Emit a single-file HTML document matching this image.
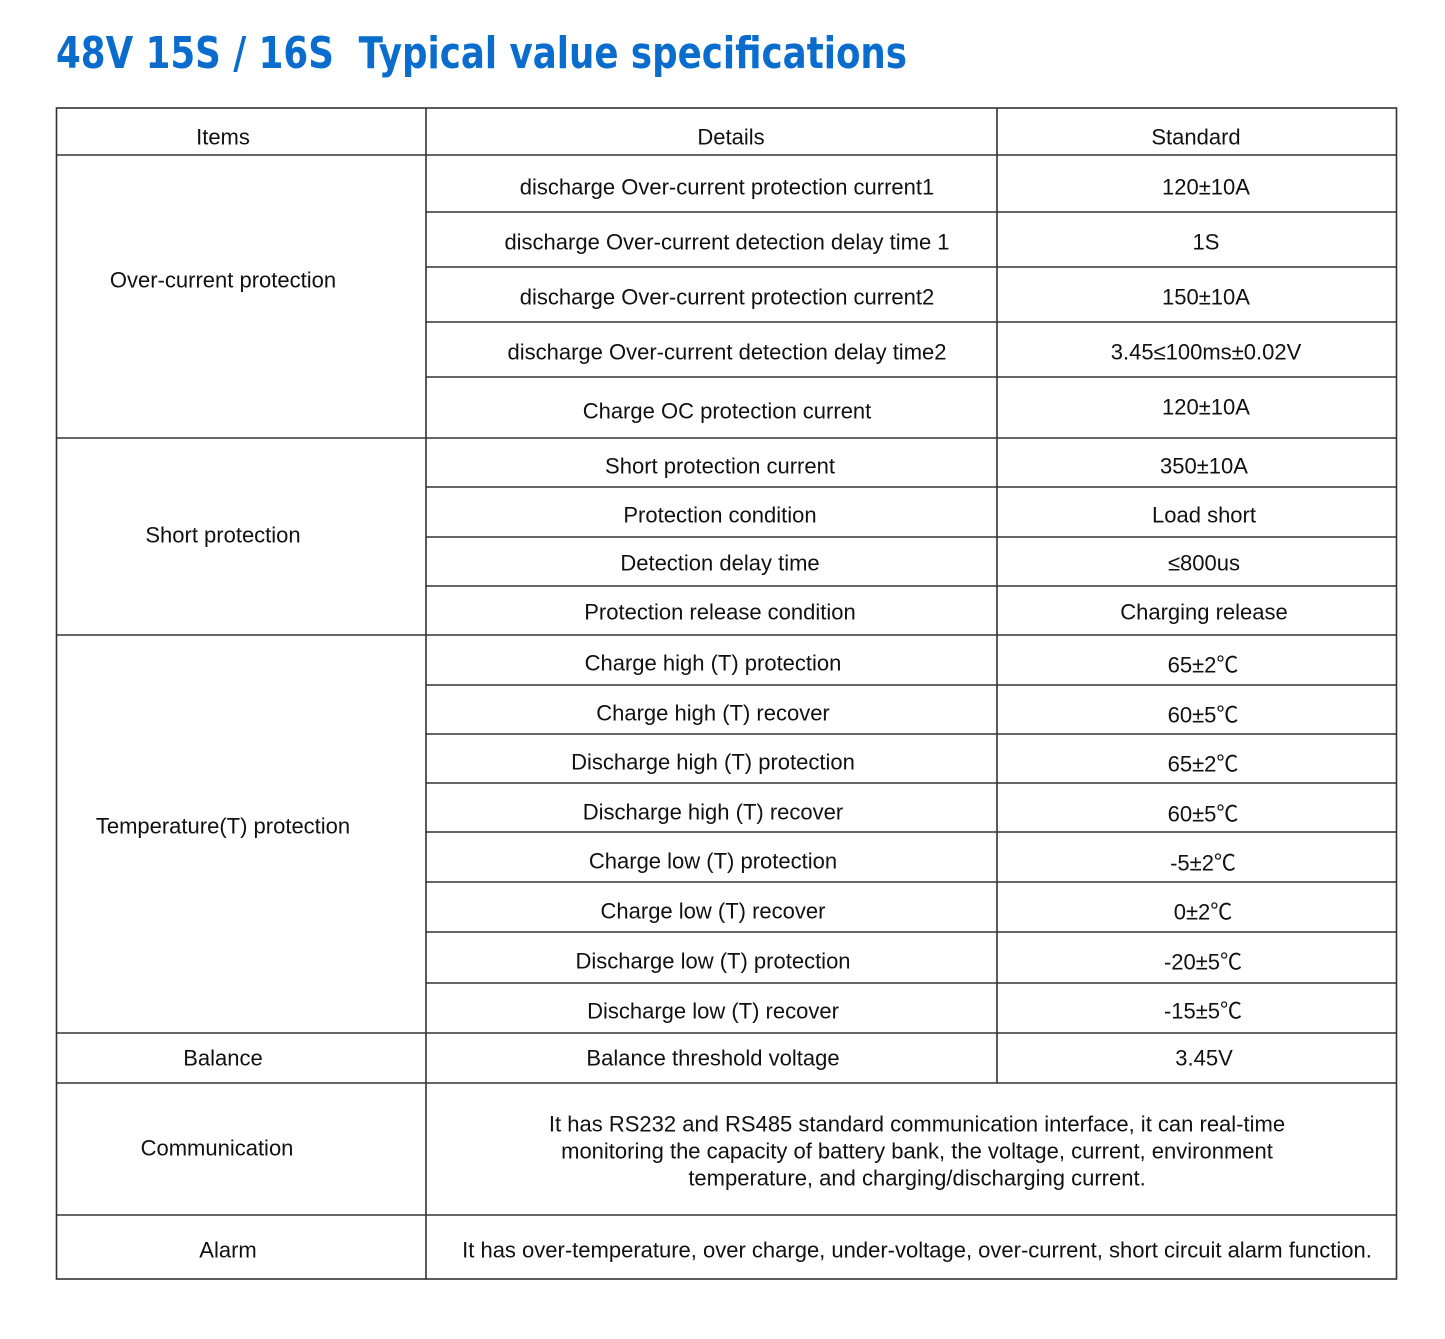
<!DOCTYPE html>
<html><head><meta charset="utf-8"><style>
html,body{margin:0;padding:0;background:#fff;width:1445px;height:1339px;overflow:hidden}
svg text{font-family:"Liberation Sans","Noto Sans CJK SC",sans-serif;font-size:22px;fill:#111}
</style></head><body>
<svg width="1445" height="1339" xmlns="http://www.w3.org/2000/svg">
<text x="56" y="68" textLength="851" lengthAdjust="spacingAndGlyphs" style="font-family:'DejaVu Sans','Liberation Sans',sans-serif;font-weight:bold;font-size:44px;fill:#0a6ccc">48V 15S / 16S&#160; Typical value specifications</text>
<g stroke="#333" stroke-width="1.6" fill="none">
<rect x="56.5" y="108" width="1340" height="1171"/>
<line x1="426" y1="108" x2="426" y2="1279"/>
<line x1="997" y1="108" x2="997" y2="1083"/>
<line x1="56" y1="155" x2="1396" y2="155"/>
<line x1="426" y1="212" x2="1396" y2="212"/>
<line x1="426" y1="267" x2="1396" y2="267"/>
<line x1="426" y1="322" x2="1396" y2="322"/>
<line x1="426" y1="377" x2="1396" y2="377"/>
<line x1="56" y1="438" x2="1396" y2="438"/>
<line x1="426" y1="487" x2="1396" y2="487"/>
<line x1="426" y1="537" x2="1396" y2="537"/>
<line x1="426" y1="586" x2="1396" y2="586"/>
<line x1="56" y1="635" x2="1396" y2="635"/>
<line x1="426" y1="685" x2="1396" y2="685"/>
<line x1="426" y1="734" x2="1396" y2="734"/>
<line x1="426" y1="783" x2="1396" y2="783"/>
<line x1="426" y1="832" x2="1396" y2="832"/>
<line x1="426" y1="882" x2="1396" y2="882"/>
<line x1="426" y1="932" x2="1396" y2="932"/>
<line x1="426" y1="983" x2="1396" y2="983"/>
<line x1="56" y1="1033" x2="1396" y2="1033"/>
<line x1="56" y1="1083" x2="1396" y2="1083"/>
<line x1="56" y1="1215" x2="1396" y2="1215"/>
</g>
<g text-anchor="middle" dominant-baseline="central">
<text x="223" y="137">Items</text><text x="731" y="137">Details</text><text x="1196" y="137">Standard</text>
<text x="223" y="280">Over-current protection</text>
<text x="727" y="187">discharge Over-current protection current1</text><text x="1206" y="187">120±10A</text>
<text x="727" y="242">discharge Over-current detection delay time 1</text><text x="1206" y="242">1S</text>
<text x="727" y="297">discharge Over-current protection current2</text><text x="1206" y="297">150±10A</text>
<text x="727" y="352">discharge Over-current detection delay time2</text><text x="1206" y="352">3.45≤100ms±0.02V</text>
<text x="727" y="411">Charge OC protection current</text><text x="1206" y="407">120±10A</text>
<text x="223" y="535">Short protection</text>
<text x="720" y="466">Short protection current</text><text x="1204" y="466">350±10A</text>
<text x="720" y="515">Protection condition</text><text x="1204" y="515">Load short</text>
<text x="720" y="563">Detection delay time</text><text x="1204" y="563">≤800us</text>
<text x="720" y="612">Protection release condition</text><text x="1204" y="612">Charging release</text>
<text x="223" y="826">Temperature(T) protection</text>
<text x="713" y="663">Charge high (T) protection</text><text x="1203" y="665">65±2℃</text>
<text x="713" y="713">Charge high (T) recover</text><text x="1203" y="715">60±5℃</text>
<text x="713" y="762">Discharge high (T) protection</text><text x="1203" y="764">65±2℃</text>
<text x="713" y="812">Discharge high (T) recover</text><text x="1203" y="814">60±5℃</text>
<text x="713" y="861">Charge low (T) protection</text><text x="1203" y="863">-5±2℃</text>
<text x="713" y="911">Charge low (T) recover</text><text x="1203" y="912">0±2℃</text>
<text x="713" y="961">Discharge low (T) protection</text><text x="1203" y="962">-20±5℃</text>
<text x="713" y="1011">Discharge low (T) recover</text><text x="1203" y="1011">-15±5℃</text>
<text x="223" y="1058">Balance</text>
<text x="713" y="1058">Balance threshold voltage</text><text x="1204" y="1058">3.45V</text>
<text x="217" y="1148">Communication</text>
<text x="917" y="1124">It has RS232 and RS485 standard communication interface, it can real-time</text>
<text x="917" y="1151">monitoring the capacity of battery bank, the voltage, current, environment</text>
<text x="917" y="1178">temperature, and charging/discharging current.</text>
<text x="228" y="1250">Alarm</text>
<text x="917" y="1250">It has over-temperature, over charge, under-voltage, over-current, short circuit alarm function.</text>
</g>
</svg>
</body></html>
